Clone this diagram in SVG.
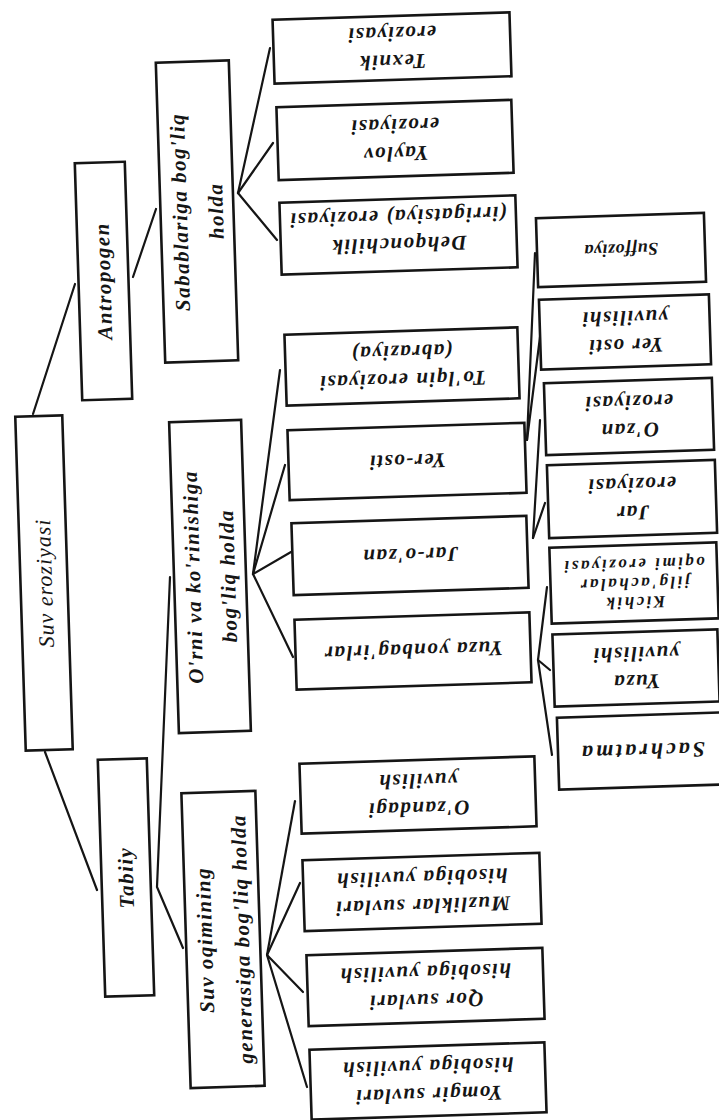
<svg xmlns="http://www.w3.org/2000/svg" width="719" height="1120" viewBox="0 0 719 1120">
<style>
.b{fill:#fff;stroke:#151515;stroke-width:2.6}
.t{font-family:"Liberation Serif",serif;font-style:italic;font-weight:bold;font-size:21px;fill:#151515;text-anchor:middle;letter-spacing:1.5px}
.r{font-weight:normal;font-size:22px;letter-spacing:1px}
.s{font-size:18px;letter-spacing:0.5px}
.k{font-size:17px;letter-spacing:2.5px}
.c{stroke:#151515;stroke-width:2.2;fill:none;stroke-linecap:round}
</style>
<rect width="719" height="1120" fill="#fff"/>
<g id="connectors">
<line class="c" x1="33" y1="414" x2="75" y2="284"/>
<line class="c" x1="45" y1="752" x2="97" y2="890"/>
<line class="c" x1="133" y1="277" x2="156" y2="209"/>
<polyline class="c" points="170,577 157,887 183,948"/>
<line class="c" x1="238" y1="193" x2="270" y2="48"/>
<line class="c" x1="238" y1="193" x2="273" y2="143"/>
<line class="c" x1="238" y1="193" x2="277" y2="240"/>
<line class="c" x1="253" y1="574" x2="280" y2="370"/>
<line class="c" x1="253" y1="574" x2="285" y2="465"/>
<line class="c" x1="253" y1="574" x2="291" y2="552"/>
<line class="c" x1="253" y1="574" x2="293" y2="657"/>
<line class="c" x1="267" y1="955" x2="295" y2="801"/>
<line class="c" x1="267" y1="955" x2="300" y2="883"/>
<line class="c" x1="267" y1="955" x2="303" y2="992"/>
<line class="c" x1="267" y1="955" x2="307" y2="1087"/>
<line class="c" x1="527" y1="440" x2="535" y2="253"/>
<line class="c" x1="527" y1="440" x2="540" y2="337"/>
<line class="c" x1="533" y1="538" x2="540" y2="420"/>
<line class="c" x1="533" y1="538" x2="545" y2="503"/>
<line class="c" x1="538" y1="660" x2="547" y2="587"/>
<line class="c" x1="538" y1="660" x2="550" y2="670"/>
<line class="c" x1="538" y1="660" x2="552" y2="755"/>
</g>
<g id="n-root" transform="translate(44,583) rotate(-1.8)">
<rect class="b" x="-23.5" y="-167" width="47" height="334"/>
<text class="t r" transform="rotate(-90)" x="0" y="8">Suv eroziyasi</text>
</g>
<g id="n-antropogen" transform="translate(103.5,281) rotate(-1.8)">
<rect class="b" x="-25" y="-118.5" width="50" height="237"/>
<text class="t" transform="rotate(-90)" x="0" y="7">Antropogen</text>
</g>
<g id="n-tabiiy" transform="translate(126,877.5) rotate(-1.8)">
<rect class="b" x="-24.5" y="-118.5" width="49" height="237"/>
<text class="t" transform="rotate(-90)" x="0" y="7">Tabiiy</text>
</g>
<g id="n-sabab" transform="translate(197,211.5) rotate(-1.8)">
<rect class="b" x="-36.5" y="-150" width="73" height="300"/>
<text class="t" transform="rotate(-90)"><tspan x="0" y="-10">Sabablariga bog'liq</tspan><tspan x="0" y="26">holda</tspan></text>
</g>
<g id="n-orni" transform="translate(210,576.5) rotate(-1.8)">
<rect class="b" x="-36" y="-155.5" width="72" height="311"/>
<text class="t" transform="rotate(-90)"><tspan x="0" y="-10">O'rni va ko'rinishiga</tspan><tspan x="0" y="25">bog'liq holda</tspan></text>
</g>
<g id="n-oqim" transform="translate(223,939.5) rotate(-1.8)">
<rect class="b" x="-37" y="-147.5" width="74" height="295"/>
<text class="t" transform="rotate(-90)"><tspan x="0" y="-11">Suv oqimining</tspan><tspan x="0" y="26">generasiga bog'liq holda</tspan></text>
</g>
<g id="n-texnik" transform="translate(392,48) rotate(178.2)">
<rect class="b" x="-118.5" y="-32" width="237" height="64"/>
<text class="t"><tspan x="0" y="-7">Texnik</tspan><tspan x="0" y="21">eroziyasi</tspan></text>
</g>
<g id="n-yaylov" transform="translate(395,140) rotate(178.2)">
<rect class="b" x="-117.5" y="-36.5" width="235" height="73"/>
<text class="t"><tspan x="0" y="-7">Yaylov</tspan><tspan x="0" y="21">eroziyasi</tspan></text>
</g>
<g id="n-dehqon" transform="translate(398.5,235) rotate(178.2)">
<rect class="b" x="-118" y="-36" width="236" height="72"/>
<text class="t"><tspan x="0" y="-3">Dehqonchilik</tspan><tspan x="0" y="25">(irrigatsiya) eroziyasi</tspan></text>
</g>
<g id="n-tolqin" transform="translate(402,366.5) rotate(178.2)">
<rect class="b" x="-116.5" y="-35.5" width="233" height="71"/>
<text class="t"><tspan x="0" y="-7">To'lqin eroziyasi</tspan><tspan x="0" y="21">(abraziya)</tspan></text>
</g>
<g id="n-yerosti" transform="translate(407,461.5) rotate(178.2)">
<rect class="b" x="-118.5" y="-35" width="237" height="70"/>
<text class="t" x="0" y="7">Yer-osti</text>
</g>
<g id="n-jarozan" transform="translate(410,555.5) rotate(178.2)">
<rect class="b" x="-117.5" y="-36" width="235" height="72"/>
<text class="t" x="0" y="7">Jar-o'zan</text>
</g>
<g id="n-yuzayon" transform="translate(413,651) rotate(178.2)">
<rect class="b" x="-117.5" y="-35" width="235" height="70"/>
<text class="t" x="0" y="7">Yuza yonbag'irlar</text>
</g>
<g id="n-ozandagi" transform="translate(418,795) rotate(178.2)">
<rect class="b" x="-117.5" y="-35" width="235" height="70"/>
<text class="t"><tspan x="0" y="-7">O'zandagi</tspan><tspan x="0" y="21">yuvilish</tspan></text>
</g>
<g id="n-muzlik" transform="translate(422,892) rotate(178.2)">
<rect class="b" x="-118.5" y="-35.5" width="237" height="71"/>
<text class="t"><tspan x="0" y="-7">Muzliklar suvlari</tspan><tspan x="0" y="21">hisobiga yuvilish</tspan></text>
</g>
<g id="n-qor" transform="translate(425.5,987) rotate(178.2)">
<rect class="b" x="-118" y="-35.5" width="236" height="71"/>
<text class="t"><tspan x="0" y="-7">Qor suvlari</tspan><tspan x="0" y="21">hisobiga yuvilish</tspan></text>
</g>
<g id="n-yomgir" transform="translate(428,1081) rotate(178.2)">
<rect class="b" x="-117.5" y="-35" width="235" height="70"/>
<text class="t"><tspan x="0" y="-7">Yomgir suvlari</tspan><tspan x="0" y="21">hisobiga yuvilish</tspan></text>
</g>
<g id="n-suffoziya" transform="translate(621,250) rotate(178.2)">
<rect class="b" x="-84" y="-34.5" width="168" height="69"/>
<text class="t s" x="0" y="6">Suffoziya</text>
</g>
<g id="n-yerostiyuv" transform="translate(625,332) rotate(178.2)">
<rect class="b" x="-85" y="-35" width="170" height="70"/>
<text class="t"><tspan x="0" y="-7">Yer osti</tspan><tspan x="0" y="21">yuvilishi</tspan></text>
</g>
<g id="n-ozan" transform="translate(629,416.5) rotate(178.2)">
<rect class="b" x="-84" y="-36" width="168" height="72"/>
<text class="t"><tspan x="0" y="-7">O'zan</tspan><tspan x="0" y="21">eroziyasi</tspan></text>
</g>
<g id="n-jar" transform="translate(632,499) rotate(178.2)">
<rect class="b" x="-84" y="-36.5" width="168" height="73"/>
<text class="t"><tspan x="0" y="-7">Jar</tspan><tspan x="0" y="21">eroziyasi</tspan></text>
</g>
<g id="n-kichik" transform="translate(634,583) rotate(178.2)">
<rect class="b" x="-83.5" y="-38" width="167" height="76"/>
<text class="t k"><tspan x="0" y="-14">Kichik</tspan><tspan x="0" y="5">jilg'achalar</tspan><tspan x="0" y="24">oqimi eroziyasi</tspan></text>
</g>
<g id="n-yuzayuv" transform="translate(636,668) rotate(178.2)">
<rect class="b" x="-82.5" y="-36" width="165" height="72"/>
<text class="t"><tspan x="0" y="-7">Yuza</tspan><tspan x="0" y="21">yuvilishi</tspan></text>
</g>
<g id="n-sachratma" transform="translate(642,751) rotate(178.2)">
<rect class="b" x="-84" y="-36" width="168" height="72"/>
<text class="t" x="0" y="7" style="font-size:22px;letter-spacing:3px">Sachratma</text>
</g>
</svg>
